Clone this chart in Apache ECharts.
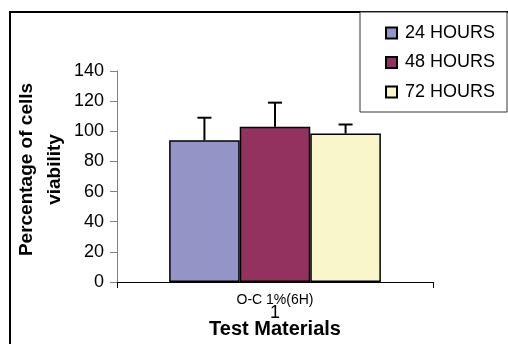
<!DOCTYPE html>
<html>
<head>
<meta charset="utf-8">
<script src="https://cdn.jsdelivr.net/npm/echarts@6/dist/echarts.min.js"></script>
<style>
html,body{margin:0;padding:0;background:#fff;}
#chart{width:508px;height:344px;}
</style>
</head>
<body>
<div id="chart"></div>
<script>
var categories = ["O-C 1%(6H)"];
var subLabels = ["1"];
var seriesNames = ["24 HOURS", "48 HOURS", "72 HOURS"];
var means24 = [94];
var means48 = [103];
var means72 = [98.5];
var errors24 = [15];
var errors48 = [16];
var errors72 = [6];
var yTicks = [0, 20, 40, 60, 80, 100, 120, 140];

var colors = ["#9494C6", "#94325F", "#FAF6CC"];
var meansAll = [means24, means48, means72];
var errorsAll = [errors24, errors48, errors72];

var errData = [];
for (var s = 0; s < 3; s++) {
  for (var c = 0; c < categories.length; c++) {
    errData.push([c, meansAll[s][c], errorsAll[s][c], s]);
  }
}

var chart = echarts.init(document.getElementById('chart'));
var FONT = 'Liberation Sans, Arial, sans-serif';

var barSeries = seriesNames.map(function (n, i) {
  return {
    name: n,
    type: 'bar',
    data: meansAll[i],
    barGap: '0%',
    barCategoryGap: '33%',
    itemStyle: { color: colors[i], borderColor: '#000', borderWidth: 1.5 },
    z: 2
  };
});

barSeries.push({
  type: 'custom',
  name: 'err',
  data: errData,
  z: 3,
  renderItem: function (params, api) {
    var cat = api.value(0), val = api.value(1), err = api.value(2), idx = api.value(3);
    var band = api.size([1, 0])[0];
    var barW = band * 0.67 / 3;
    var off = (idx - 1) * barW;
    var p0 = api.coord([cat, val]);
    var p1 = api.coord([cat, val + err]);
    var x = p0[0] + off;
    var style = { stroke: '#000', lineWidth: 2 };
    return {
      type: 'group',
      children: [
        { type: 'line', shape: { x1: x, y1: p0[1], x2: x, y2: p1[1] }, style: style },
        { type: 'line', shape: { x1: x - 7, y1: p1[1], x2: x + 7, y2: p1[1] }, style: style }
      ]
    };
  }
});

chart.setOption({
  animation: false,
  backgroundColor: '#fff',
  grid: { left: 117, right: 75, top: 71, bottom: 60 },
  legend: {
    orient: 'vertical',
    left: 385,
    top: 24,
    padding: 0,
    itemWidth: 11,
    itemHeight: 11,
    itemGap: 11.5,
    icon: 'rect',
    data: seriesNames,
    textStyle: { fontFamily: FONT, fontSize: 18, color: '#000', lineHeight: 18, padding: [0, 0, 0, 3] }
  },
  xAxis: [{
    type: 'category',
    data: categories,
    axisLine: { lineStyle: { color: '#000', width: 1 } },
    axisTick: { show: true, length: 6, lineStyle: { color: '#000' } },
    axisLabel: { fontFamily: FONT, fontSize: 14, color: '#000', margin: 11 },
    name: 'Test Materials',
    nameLocation: 'middle',
    nameGap: 37,
    nameMoveOverlap: false,
    nameTextStyle: { fontFamily: FONT, fontSize: 20, fontWeight: 'bold', color: '#000' }
  }, {
    type: 'category',
    position: 'bottom',
    data: subLabels,
    axisLine: { show: false },
    axisTick: { show: false },
    axisLabel: { fontFamily: FONT, fontSize: 18, color: '#000', margin: 22 }
  }],
  yAxis: {
    type: 'value',
    min: 0,
    max: 140,
    interval: 20,
    splitLine: { show: false },
    axisLine: { show: true, lineStyle: { color: '#808080', width: 1 } },
    axisTick: { show: true, length: 7, lineStyle: { color: '#808080' } },
    axisLabel: {
      fontFamily: FONT, fontSize: 18, color: '#000', margin: 13,
      formatter: function (v) { return yTicks.indexOf(v) >= 0 ? String(v) : ''; }
    },
    name: 'Percentage of cells\nviability',
    nameLocation: 'middle',
    nameRotate: 90,
    nameGap: 48,
    nameMoveOverlap: false,
    nameTextStyle: { fontFamily: FONT, fontSize: 19, fontWeight: 'bold', color: '#000', lineHeight: 28, padding: [0, 0, 0, 14] }
  },
  graphic: [
    { type: 'rect', shape: { x: 10, y: 12, width: 620, height: 420 }, style: { fill: 'none', stroke: '#000', lineWidth: 2 }, z: -1, silent: true },
    { type: 'rect', shape: { x: 360, y: 12, width: 147, height: 100 }, style: { fill: '#fff', stroke: '#333', lineWidth: 1 }, z: 0, silent: true }
  ],
  series: barSeries
});
</script>
</body>
</html>
